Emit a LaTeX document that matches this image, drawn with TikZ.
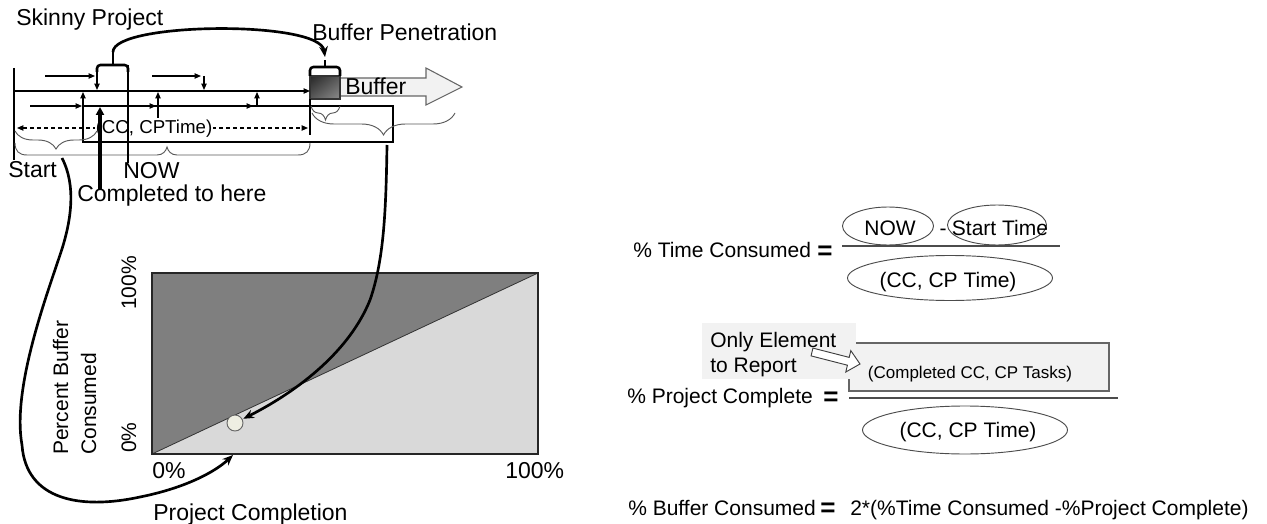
\documentclass[tikz,border=0pt]{standalone}
\usepackage{fontspec}
\setmainfont{Liberation Sans}
\usetikzlibrary{arrows.meta,decorations.pathreplacing,shapes.geometric,shadings,calc}
\definecolor{darkfill}{HTML}{7F7F7F}
\definecolor{lightfill}{HTML}{D9D9D9}
\definecolor{boxfill}{HTML}{F2F2F2}
\definecolor{bracegray}{HTML}{595959}
\definecolor{dotfill}{HTML}{EEEEE2}
\begin{document}
\begin{tikzpicture}[x=0.75pt,y=-0.75pt,
  big/.style={font=\fontsize{17.25}{20}\selectfont, inner sep=0pt},
  mid/.style={font=\fontsize{15.75}{18.75}\selectfont, inner sep=0pt},
  small/.style={font=\fontsize{12.75}{15}\selectfont, inner sep=0pt},
  eqs/.style={font=\fontsize{19.5}{20}\selectfont\bfseries, inner sep=0pt},
  tl/.style={line width=0.8pt, draw=black},
  ta/.style={tl, -{Triangle[length=4.8pt,width=4pt]}},
  heavy/.style={line width=2pt, -{Stealth[length=8pt,width=6.5pt]}},
  brk/.style={line width=1.9pt, rounded corners=2.5pt},
  brc/.style={draw=bracegray, line width=0.7pt, decorate,
    decoration={brace, mirror, amplitude=#1}},
  oval/.style={ellipse, draw=black!70, line width=0.7pt, inner sep=0pt},
  fracbar/.style={line width=0.8pt, draw=black!70}
]
\useasboundingbox (0,0) rectangle (1267,524);

% ---------- project network ----------
\node[big, anchor=base west] (skinny) at (16,26) {Skinny Project};
\node[big, anchor=base west] (pen) at (312,41) {Buffer Penetration};

% buffer arrow and buffer block
\draw[draw=black!60, fill=boxfill, line width=0.8pt]
  (338,78) -- (426,78) -- (426,68) -- (462,87) -- (426,105) -- (426,96) -- (338,96) -- cycle;
\shade[upper left=black!85, upper right=black!65, lower left=black!65, lower right=black!45]
  (310,76) rectangle (340,99);
\draw[black!80, line width=0.8pt] (310,76) rectangle (340,99);
\coordinate (bufin) at (310,91);
\node[big, anchor=base west] (buf) at (345,95) {Buffer};

% start line and critical chain
\draw[tl, line width=1.1pt] (14,68) -- (14,160);
\draw[ta] (14,91) -- (bufin);
\draw[ta] (30,106) -- (82,106);
\draw[ta] (83,106) -- (156,106);
\draw[ta] (157,106) -- (253,106);
\draw[tl] (83,106) rectangle (393,142);
\draw[ta] (83,106) -- (83,92);
\draw[ta] (158,118) -- (158,92);
\draw[ta] (257,107) -- (257,92);
\draw[ta] (45,76) -- (95,76);
\draw[ta] (97,72) -- (97,90);
\draw[ta] (152,76) -- (201,76);
\draw[ta] (204,76) -- (204,90);
\draw[tl] (310,99) -- (310,135);

% duration of the chain
\draw[tl, dashed, dash pattern=on 3pt off 2.25pt,
  {Triangle[length=4.8pt,width=4pt]}-{Triangle[length=4.8pt,width=4pt]}] (17,128) -- (308,128);
\node[font=\fontsize{14}{16}\selectfont, fill=white, inner sep=0.5pt, anchor=base] (cct0) at (154,133.5) {(CC, CPTime)};

% braces
\draw[brc=13.5pt] (15,131) -- (97,131);
\draw[brc=10.5pt] (311,106) -- (340,106);
\draw[brc=16.5pt] (312,113) -- (455,113);
\draw[draw=bracegray, line width=0.7pt]
  (15,143) .. controls (15,151) and (19,155) .. (27,155) -- (157,155)
  .. controls (163,155) and (166,151) .. (167,147)
  .. controls (168,151) and (171,155) .. (177,155) -- (298,155)
  .. controls (306,155) and (310,151) .. (310,143);

% brackets and the penetration arrow
\draw[brk] (97,72) -- (97,65) -- (128,65) -- (128,72);
\draw[tl, line width=1.1pt] (128,65) -- (128,163);
\draw[line width=1.9pt] (113,65) -- (113,51);
\draw[brk] (310,76) -- (310,67) -- (340,67) -- (340,76);
\draw[line width=1.9pt] (325,67) -- (325,60);
\coordinate (lstem) at (113,52);
\coordinate (rstem) at (325,57);
\draw[heavy] (lstem) .. controls (113,22) and (320,20) .. (rstem);

% labels under the network
\node[big, anchor=base west] (start) at (8,178) {Start};
\node[big, anchor=base west] (now) at (123,179) {NOW};
\node[big, anchor=base west] (done) at (77,201) {Completed to here};
\coordinate (donetop) at (100,190);
\draw[line width=2.4pt, -{Triangle[length=6pt,width=6pt]}] (donetop) -- (100,107);

% ---------- fever chart ----------
\fill[lightfill] (152,273) rectangle (538,454);
\fill[darkfill] (152,454) -- (152,273) -- (538,273) -- cycle;
\draw[line width=0.6pt, black!80] (152,454) -- (538,273);
\draw[line width=1.1pt, black!85] (152,273) rectangle (538,454);
\node[circle, draw=black!60, fill=dotfill, line width=0.7pt, minimum size=12pt,
  inner sep=0pt, outer sep=1pt] (pt) at (235,423) {};
\coordinate (px) at (233,455);

\node[mid, rotate=90, anchor=base west] (y100) at (136,310) {100\%};
\node[mid, rotate=90, anchor=base west] (y0) at (136,453) {0\%};
\node[mid, rotate=90, anchor=base west] (ylab1) at (68,455) {Percent Buffer};
\node[mid, rotate=90, anchor=base west] (ylab2) at (96,455) {Consumed};
\node[big, anchor=base west] (x0) at (152,478) {0\%};
\node[big, anchor=base west] (x100) at (505,478) {100\%};
\node[big, anchor=base west] (xlab) at (153,520) {Project Completion};

% links from the network to the chart
\coordinate (bufend) at (387,145);
\draw[heavy] (bufend) .. controls (386,210) and (384,260) .. (370,300)
  .. controls (350,350) and (300,390) .. (pt);
\coordinate (startend) at (62,158);
\draw[heavy] (startend) .. controls (76,185) and (72,220) .. (60,255)
  .. controls (45,300) and (12,390) .. (22,445)
  .. controls (26,500) and (80,510) .. (140,497)
  .. controls (185,488) and (215,472) .. (px);

% ---------- formulas ----------
% time consumed
\node[mid, anchor=base west] (tcl) at (633,257.5) {\% Time Consumed};
\node[eqs, anchor=base] (eq1) at (825,259) {=};
\draw[fracbar] (842,246) -- (1060,246);
\node[oval, minimum width=68.25pt, minimum height=28.5pt] (e1) at (888,226) {};
\node[mid, anchor=base] (now2) at (890,235.5) {NOW};
\node[mid, anchor=base] (minus) at (943,235) {-};
\node[oval, minimum width=74.25pt, minimum height=30pt] (e2) at (997,225) {};
\node[mid, anchor=base] (st) at (1000,235.5) {Start Time};
\node[oval, minimum width=153.75pt, minimum height=33.75pt] (e3) at (950,278) {};
\node[mid, anchor=base] (cc1) at (948,287.5) {(CC, CP Time)};

% project complete
\draw[draw=black!60, fill=boxfill, line width=0.8pt] (849,343) rectangle (1109,391);
\fill[boxfill] (702,323) rectangle (856,379);
\node[mid, anchor=base west] (only1) at (710,347.5) {Only Element};
\node[mid, anchor=base west] (only2) at (710,372.5) {to Report};
\node[small, anchor=base] (cctask) at (970,378.5) {(Completed CC, CP Tasks)};
\draw[draw=black!75, fill=white, line width=0.7pt]
  (812.9,348.1) -- (849.2,357.4) -- (850.8,350.6) -- (860,364) -- (845.8,372)
  -- (847.4,365.2) -- (811.1,355.9) -- cycle;
\node[mid, anchor=base west] (pcl) at (627,403.5) {\% Project Complete};
\node[eqs, anchor=base] (eq2) at (831,405) {=};
\draw[fracbar] (849,398) -- (1118,398);
\node[oval, minimum width=153.75pt, minimum height=36pt] (e4) at (965,430) {};
\node[mid, anchor=base] (cc2) at (968,437.5) {(CC, CP Time)};

% buffer consumed
\node[mid, anchor=base west] (bcl) at (628,515) {\% Buffer Consumed};
\node[eqs, anchor=base] (eq3) at (828,516) {=};
\node[mid, anchor=base west] (bcr) at (850,515) {2*(\%Time Consumed -\%Project Complete)};
\end{tikzpicture}
\end{document}
